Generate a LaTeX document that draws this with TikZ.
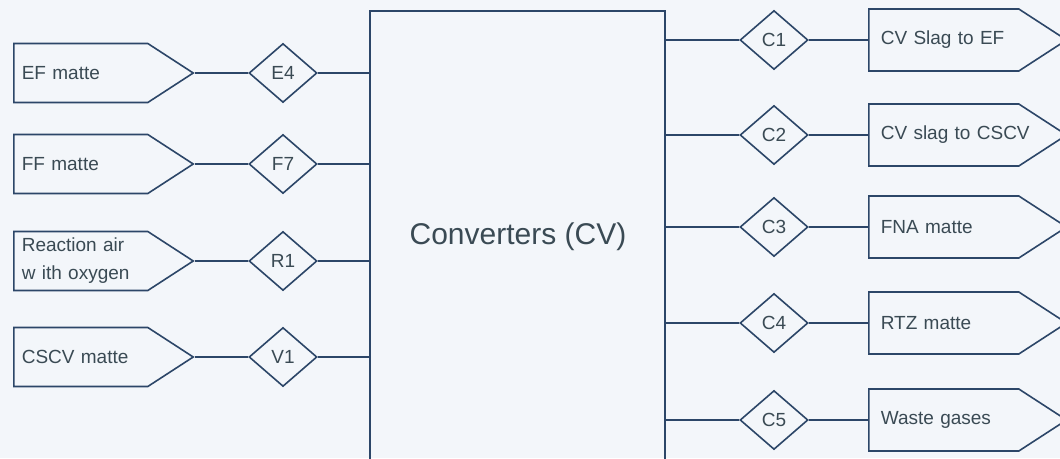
\documentclass[tikz,border=0pt]{standalone}
\usepackage{fontspec}
\setmainfont{Liberation Sans}
\usetikzlibrary{shapes.geometric,shapes.symbols}

\definecolor{linec}{RGB}{44,70,104}
\definecolor{txtc}{RGB}{58,74,84}
\definecolor{paper}{RGB}{243,246,250}

\tikzset{
  stream/.style={signal, signal to=east, signal pointer angle=66,
    draw=linec, line width=1.6pt, text=txtc, anchor=west,
    minimum height=59pt, text width=118pt,
    align=left, inner xsep=8pt, inner ysep=0pt,
    font=\fontsize{19}{28}\selectfont},
  product/.style={stream, minimum height=62pt, text width=126pt, inner xsep=12pt},
  valve/.style={diamond, draw=linec, line width=1.6pt, text=txtc,
    minimum width=68pt, minimum height=59pt, inner sep=0pt,
    font=\fontsize{19}{23}\selectfont},
  pipe/.style={draw=linec, line width=1.6pt}
}

\begin{document}
\begin{tikzpicture}[x=1pt,y=-1pt]
  \useasboundingbox (0,0) rectangle (1060,458);
  \fill[paper] (0,0) rectangle (1060,458);
  \clip (0,0) rectangle (1060,458);

  % the converter itself runs off the bottom edge
  \node[draw=linec, line width=1.6pt, minimum width=295pt, minimum height=470pt,
        anchor=north] (cv) at (517.5,10) {};
  \node[text=txtc, font=\fontsize{30}{36}\selectfont] (cvname) at (518,237) {Converters (CV)};

  % feeds on the left
  \node[stream] (ef)   at (13,73)  {EF matte};
  \node[stream] (ff)   at (13,164) {FF matte};
  \node[stream] (air)  at (13,261) {Reaction air\\w ith oxygen};
  \node[stream] (cscv) at (13,357) {CSCV matte};

  \node[valve] (E4) at (283,73)  {E4};
  \node[valve] (F7) at (283,164) {F7};
  \node[valve] (R1) at (283,261) {R1};
  \node[valve] (V1) at (283,357) {V1};

  \draw[pipe] (ef.east)   -- (E4.west) (E4.east) -- (E4.east -| cv.west);
  \draw[pipe] (ff.east)   -- (F7.west) (F7.east) -- (F7.east -| cv.west);
  \draw[pipe] (air.east)  -- (R1.west) (R1.east) -- (R1.east -| cv.west);
  \draw[pipe] (cscv.east) -- (V1.west) (V1.east) -- (V1.east -| cv.west);

  % products on the right
  \node[valve] (C1) at (774,40)  {C1};
  \node[valve] (C2) at (774,135) {C2};
  \node[valve] (C3) at (774,227) {C3};
  \node[valve] (C4) at (774,323) {C4};
  \node[valve] (C5) at (774,420) {C5};

  \node[product] (slagef)   at (868,40)  {CV Slag to EF};
  \node[product] (slagcscv) at (868,135) {\mbox{CV slag to CSCV}};
  \node[product] (fna)      at (868,227) {FNA matte};
  \node[product] (rtz)      at (868,323) {RTZ matte};
  \node[product] (waste)    at (868,420) {Waste gases};

  \draw[pipe] (C1.west -| cv.east) -- (C1.west) (C1.east) -- (slagef.west);
  \draw[pipe] (C2.west -| cv.east) -- (C2.west) (C2.east) -- (slagcscv.west);
  \draw[pipe] (C3.west -| cv.east) -- (C3.west) (C3.east) -- (fna.west);
  \draw[pipe] (C4.west -| cv.east) -- (C4.west) (C4.east) -- (rtz.west);
  \draw[pipe] (C5.west -| cv.east) -- (C5.west) (C5.east) -- (waste.west);
\end{tikzpicture}
\end{document}
